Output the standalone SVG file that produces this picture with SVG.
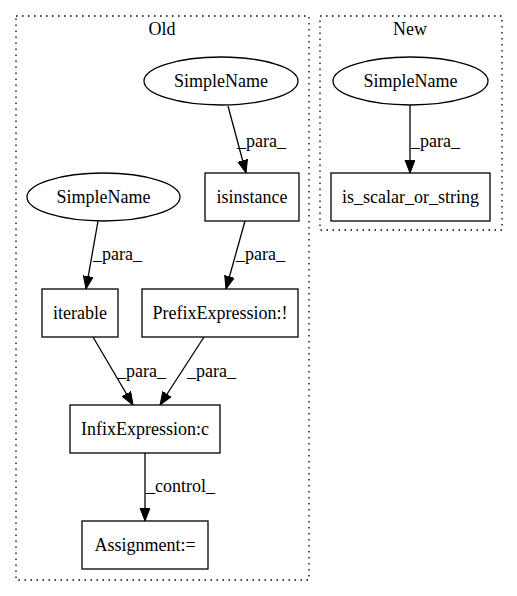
<svg xmlns="http://www.w3.org/2000/svg" width="517" height="596" viewBox="0 0 517 596">
<style>
text{font-family:"Liberation Serif","Times New Roman",serif;font-size:18px;fill:#000}
.n{fill:#fff;stroke:#000;stroke-width:1.3}
.c{fill:none;stroke:#000;stroke-width:1.3;stroke-dasharray:1.5,4.5}
.e{fill:none;stroke:#000;stroke-width:1.3;marker-end:url(#ah)}
.m{text-anchor:middle}
</style>
<defs>
<marker id="ah" markerUnits="userSpaceOnUse" markerWidth="15" markerHeight="12" refX="13" refY="5" orient="auto">
<path d="M0,0 L13,5 L0,10 z" fill="#000" stroke="#000" stroke-width="1"/>
</marker>
</defs>
<rect width="517" height="596" fill="#fff"/>
<g id="cluster_old">
<rect class="c" x="16" y="16" width="293" height="564"/>
<text class="m" x="162" y="35">Old</text>
</g>
<g id="cluster_new">
<rect class="c" x="320" y="16" width="182" height="214"/>
<text class="m" x="410" y="35">New</text>
</g>
<g id="connectors">
<path class="e" d="M228,106 L246,173"/>
<text x="237" y="147">_para_</text>
<path class="e" d="M98,221 L86,289"/>
<text x="93" y="260">_para_</text>
<path class="e" d="M245,221 L226,289"/>
<text x="236" y="260">_para_</text>
<path class="e" d="M93,337 L133,405"/>
<text x="117" y="377">_para_</text>
<path class="e" d="M204,337 L160,405"/>
<text x="187" y="377">_para_</text>
<path class="e" d="M145,453 L145,521"/>
<text x="146" y="492">_control_</text>
<path class="e" d="M410,105 L410,173"/>
<text x="411" y="147">_para_</text>
</g>
<g id="simplename_old_top">
<ellipse class="n" cx="221" cy="81" rx="77" ry="24"/>
<text class="m" x="221" y="87">SimpleName</text>
</g>
<g id="isinstance">
<rect class="n" x="205" y="173" width="94" height="48"/>
<text class="m" x="252" y="203">isinstance</text>
</g>
<g id="simplename_old_left">
<ellipse class="n" cx="103.5" cy="197" rx="76.5" ry="24"/>
<text class="m" x="103.5" y="203">SimpleName</text>
</g>
<g id="iterable">
<rect class="n" x="42" y="289" width="76" height="48"/>
<text class="m" x="80" y="319">iterable</text>
</g>
<g id="prefix">
<rect class="n" x="142" y="289" width="156" height="48"/>
<text class="m" x="220" y="319">PrefixExpression:!</text>
</g>
<g id="infix">
<rect class="n" x="70" y="405" width="150" height="48"/>
<text class="m" x="145" y="435">InfixExpression:c</text>
</g>
<g id="assignment">
<rect class="n" x="82" y="521" width="126" height="48"/>
<text class="m" x="145" y="551">Assignment:=</text>
</g>
<g id="simplename_new">
<ellipse class="n" cx="410.5" cy="81" rx="77.5" ry="24"/>
<text class="m" x="410.5" y="87">SimpleName</text>
</g>
<g id="is_scalar_or_string">
<rect class="n" x="331" y="173" width="159" height="48"/>
<text class="m" x="410.5" y="203">is_scalar_or_string</text>
</g>
</svg>
